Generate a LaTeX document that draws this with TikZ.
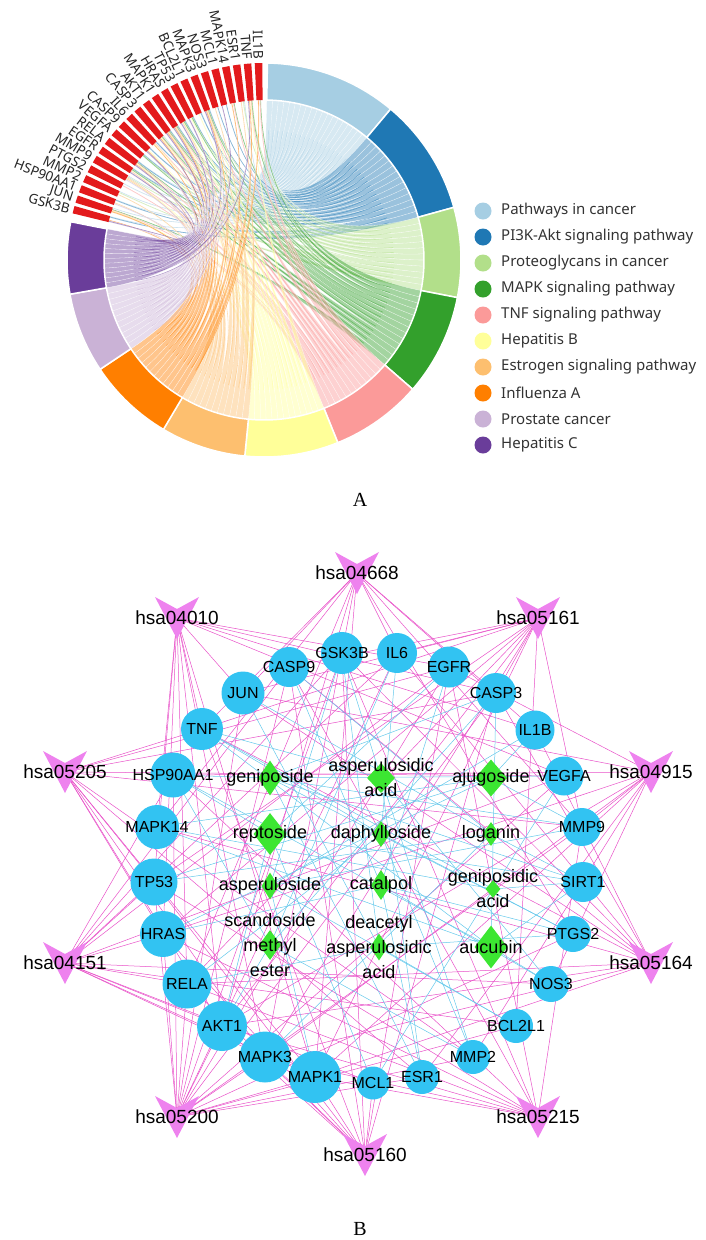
\documentclass[tikz,border=0pt]{standalone}
\usepackage{fontspec}
\setmainfont{Liberation Sans}
\newfontfamily\chordfont{Noto Sans}
\newfontfamily\capfont{Liberation Serif}
\usepackage{tikz}
\usetikzlibrary{shapes,shapes.geometric,backgrounds}

\definecolor{pw1}{HTML}{A6CEE3}
\definecolor{pw2}{HTML}{1F78B4}
\definecolor{pw3}{HTML}{B2DF8A}
\definecolor{pw4}{HTML}{33A02C}
\definecolor{pw5}{HTML}{FB9A99}
\definecolor{pw6}{HTML}{FFFF99}
\definecolor{pw7}{HTML}{FDBF6F}
\definecolor{pw8}{HTML}{FF7F00}
\definecolor{pw9}{HTML}{CAB2D6}
\definecolor{pw10}{HTML}{6A3D9A}
\definecolor{genered}{HTML}{E31A1C}
\definecolor{hubblue}{RGB}{50,195,242}
\definecolor{cmpdgreen}{RGB}{60,230,50}
\definecolor{hsaviolet}{RGB}{238,130,238}
\definecolor{linkpink}{RGB}{232,80,200}
\definecolor{linkblue}{RGB}{100,200,235}

\tikzset{hsavee/.pic={\fill[hsaviolet] (-22,-21) -- (0,-9) -- (22,-21) -- (0,21) -- cycle;}}

\begin{document}
\begin{tikzpicture}
	[x=1pt,y=-1pt,
	gene/.style={shape=circle,fill=hubblue,inner sep=0pt},
	genetext/.style={font=\fontsize{16}{18}\selectfont,inner sep=0pt},
	cmpd/.style={shape=diamond,fill=cmpdgreen,inner sep=0pt},
	cmpdtext/.style={font=\fontsize{18}{25}\selectfont,align=center,inner sep=0pt},
	hsatext/.style={font=\fontsize{19}{22}\selectfont,inner sep=0pt},
	pinklink/.style={draw=linkpink,line width=.5pt},
	bluelink/.style={draw=linkblue,line width=.5pt},
	legdot/.style={shape=circle,inner sep=0pt,minimum size=17pt},
	legtext/.style={font=\chordfont\fontsize{15}{18}\selectfont,text=black!80,inner sep=0pt,anchor=west},
	genelbl/.style={font=\chordfont\fontsize{13.5}{15}\selectfont,text=black!85,inner sep=0pt,anchor=east}]
	\useasboundingbox (0,0) rectangle (706,1240);
	
	% A: chord diagram
	\begin{scope}[shift={(264,260)},y=1pt]
	\foreach \s/\e/\col/\j/\n/\links in {50/89/pw1/1/19/{24,23,22,21,20,19,18,17,16,15,14,13,12,11,10,9,8,7,3},
		15.5/50/pw2/2/15/{24,22,18,17,16,15,14,12,11,10,9,8,7,6,5},
		-11/15.5/pw3/3/12/{21,19,18,16,13,12,11,10,9,7,3,2},
		-41/-11/pw4/4/13/{23,18,17,16,13,12,11,10,9,7,4,2,1},
		-68/-41/pw5/5/12/{23,20,19,17,14,13,12,11,7,4,2,1},
		-95.6/-68/pw6/6/13/{23,19,17,15,14,13,12,11,10,9,8,7,2},
		-120.7/-95.6/pw7/7/11/{23,22,21,19,18,12,11,10,7,6,3},
		-146.3/-120.7/pw8/8/12/{24,23,17,15,14,13,12,11,7,4,2,1},
		-170/-146.3/pw9/9/11/{24,22,19,18,17,15,12,11,10,9,7},
		-191.2/-170/pw10/10/12/{24,18,17,15,13,12,11,10,9,7,5,2}}
	{
		\pgfmathsetmacro{\w}{(\e-\s)/\n}
		\foreach \g [count=\k] in \links
		{
			\pgfmathsetmacro{\a}{\s+(\k-1)*\w}
			\pgfmathsetmacro{\b}{\a+\w}
			\pgfmathsetmacro{\m}{\a+\w/2}
			\pgfmathsetmacro{\ga}{90+3.2*(\g-0.5)-1+(\j-1)*0.2}
			\pgfmathsetmacro{\gb}{\ga+0.2}
			\filldraw[fill=\col,fill opacity=.45,draw=white,draw opacity=.7,line width=.3pt]
				(\a:160) .. controls (\a:55) and (\gb:55) .. (\gb:160) -- (\ga:160)
				.. controls (\ga:55) and (\b:55) .. (\b:160) arc[start angle=\b,end angle=\a,radius=160] -- cycle;
			\draw[\col,opacity=.5,line width=.6pt,shorten <=30pt] (\m:160) .. controls (\m:55) and (\ga:55) .. (\ga:160);
		}
	}
	\foreach \s/\e/\col in {50/89/pw1,15.5/50/pw2,-11/15.5/pw3,-41/-11/pw4,-68/-41/pw5,
		-95.6/-68/pw6,-120.7/-95.6/pw7,-146.3/-120.7/pw8,-170/-146.3/pw9,-191.2/-170/pw10}
		\filldraw[fill=\col,draw=white,line width=1.5pt] (\s:197) arc[start angle=\s,end angle=\e,radius=197]
			-- (\e:160) arc[start angle=\e,end angle=\s,radius=160] -- cycle;
	\foreach \gname [count=\g] in {IL1B,TNF,ESR1,MAPK14,MCL1,NOS3,MAPK3,BCL2L1,TP53,HRAS,MAPK1,AKT1,
		CASP3,IL6,CASP9,VEGFA,RELA,EGFR,MMP9,PTGS2,MMP2,HSP90AA1,JUN,GSK3B}
	{
		\pgfmathsetmacro{\t}{90+3.2*(\g-0.5)}
		\pgfmathsetmacro{\ta}{\t-1.1}
		\pgfmathsetmacro{\tb}{\t+1.1}
		\pgfmathsetmacro{\rot}{\t-180}
		\fill[genered] (\ta:197) arc[start angle=\ta,end angle=\tb,radius=197]
			-- (\tb:160) arc[start angle=\tb,end angle=\ta,radius=160] -- cycle;
		\node[genelbl,rotate=\rot] (lbl\g) at (\t:201) {\gname};
	}
	\end{scope}
	
	\foreach \txt [count=\i] in {Pathways in cancer,PI3K-Akt signaling pathway,Proteoglycans in cancer,
		MAPK signaling pathway,TNF signaling pathway,Hepatitis B,Estrogen signaling pathway,
		Influenza A,Prostate cancer,Hepatitis C}
	{
		\node[legdot,fill=pw\i] (dot\i) at (483,{211+26*(\i-1)}) {};
		\node[legtext] (leg\i) at (501,{211+26*(\i-1)}) {\txt};
	}
	\node[font=\capfont\fontsize{20}{24}\selectfont] (capA) at (360,500) {A};
	
	% B: network
	\foreach \nm/\x/\y/\d in {GSK3B/342/653/42,IL6/397/653/40,EGFR/449/667/41,CASP3/496/693/40,
		IL1B/535/730/39,VEGFA/564/776/39,MMP9/582/827/38,SIRT1/583/882/40,PTGS2/573/934/36,
		NOS3/551/984/36,BCL2L1/516/1026/34,MMP2/473/1057/34,ESR1/422/1077/34,MCL1/373/1083/33,
		MAPK1/315/1077/52,MAPK3/265/1057/51,AKT1/222/1026/50,RELA/187/984/49,HRAS/163/934/46,
		TP53/154/882/47,MAPK14/157/827/44,HSP90AA1/173/775/45,TNF/202/729/42,JUN/243/693/43,
		CASP9/289/667/40}
		\node[gene,minimum size=\d pt,label={[genetext]center:\nm}] (\nm) at (\x,\y) {};
	
	\foreach \nm/\x/\y in {04668/357/573,04010/177/618,05161/538/618,05205/65/772,04915/651/772,
		04151/65/963,05164/651/963,05200/177/1117,05215/538/1117,05160/365/1155}
	{
		\pic at (\x,\y) {hsavee};
		\node[hsatext] (p\nm) at (\x,\y) {hsa\nm};
	}
	
	\node[cmpd,minimum width=24pt,minimum height=35pt,label={[cmpdtext]center:geniposide}] (geniposide) at (270,778) {};
	\node[cmpd,minimum width=28pt,minimum height=30pt,label={[cmpdtext]center:{asperulosidic\\acid}}] (asperulosidic) at (381,778) {};
	\node[cmpd,minimum width=32pt,minimum height=37pt,label={[cmpdtext]center:ajugoside}] (ajugoside) at (491,778) {};
	\node[cmpd,minimum width=33pt,minimum height=42pt,label={[cmpdtext]center:reptoside}] (reptoside) at (270,834) {};
	\node[cmpd,minimum width=18pt,minimum height=26pt,label={[cmpdtext]center:daphylloside}] (daphylloside) at (381,834) {};
	\node[cmpd,minimum width=17pt,minimum height=24pt,label={[cmpdtext]center:loganin}] (loganin) at (491,834) {};
	\node[cmpd,minimum width=17pt,minimum height=27pt,label={[cmpdtext]center:asperuloside}] (asperuloside) at (270,886) {};
	\node[cmpd,minimum width=20pt,minimum height=30pt,label={[cmpdtext]center:catalpol}] (catalpol) at (381,885) {};
	\node[cmpd,minimum width=15pt,minimum height=18pt,label={[cmpdtext]center:{geniposidic\\acid}}] (geniposidic) at (493,889) {};
	\node[cmpd,minimum width=22pt,minimum height=30pt,label={[cmpdtext]center:{scandoside\\methyl\\ester}}] (scandoside) at (270,945) {};
	\node[cmpd,minimum width=18pt,minimum height=27pt,label={[cmpdtext]center:{deacetyl\\asperulosidic\\acid}}] (deacetyl) at (379,947) {};
	\node[cmpd,minimum width=33pt,minimum height=43pt,label={[cmpdtext]center:aucubin}] (aucubin) at (491,947) {};
	
	\node[font=\capfont\fontsize{20}{24}\selectfont] (capB) at (360,1229) {B};
	
	\begin{scope}[on background layer]
	\foreach \p/\gs in {05200/{GSK3B,JUN,HSP90AA1,MMP2,PTGS2,MMP9,EGFR,RELA,VEGFA,CASP9,IL6,CASP3,AKT1,MAPK1,HRAS,TP53,BCL2L1,MAPK3,ESR1},
		04151/{GSK3B,HSP90AA1,EGFR,RELA,VEGFA,CASP9,IL6,AKT1,MAPK1,HRAS,TP53,BCL2L1,MAPK3,NOS3,MCL1},
		05205/{MMP2,MMP9,EGFR,VEGFA,CASP3,AKT1,MAPK1,HRAS,TP53,MAPK3,ESR1,TNF},
		04010/{JUN,EGFR,RELA,VEGFA,CASP3,AKT1,MAPK1,HRAS,TP53,MAPK3,MAPK14,TNF,IL1B},
		04668/{JUN,PTGS2,MMP9,RELA,IL6,CASP3,AKT1,MAPK1,MAPK3,MAPK14,TNF,IL1B},
		05161/{JUN,MMP9,RELA,CASP9,IL6,CASP3,AKT1,MAPK1,HRAS,TP53,BCL2L1,MAPK3,TNF},
		04915/{JUN,HSP90AA1,MMP2,MMP9,EGFR,AKT1,MAPK1,HRAS,MAPK3,NOS3,ESR1},
		05164/{GSK3B,JUN,RELA,CASP9,IL6,CASP3,AKT1,MAPK1,MAPK3,MAPK14,TNF,IL1B},
		05215/{GSK3B,HSP90AA1,MMP9,EGFR,RELA,CASP9,AKT1,MAPK1,HRAS,TP53,MAPK3},
		05160/{GSK3B,EGFR,RELA,CASP9,CASP3,AKT1,MAPK1,HRAS,TP53,MAPK3,MCL1,TNF}}
		\foreach \gn in \gs
			\draw[pinklink] (p\p.center) -- (\gn.center);
	\foreach \c/\gs in {geniposide/{HSP90AA1,VEGFA,SIRT1,MMP9,ESR1,CASP3,PTGS2},
		asperulosidic/{GSK3B,TNF,MMP2,NOS3,ESR1},
		ajugoside/{IL1B,MMP9,HRAS,MAPK14,TP53},
		reptoside/{HSP90AA1,SIRT1,AKT1,EGFR,MCL1},
		daphylloside/{TNF,MMP2,IL6,PTGS2,RELA},
		loganin/{JUN,CASP9,SIRT1,TP53,MAPK3},
		asperuloside/{GSK3B,IL1B,MMP9,MAPK1,BCL2L1},
		catalpol/{CASP9,EGFR,NOS3,HRAS,ESR1,PTGS2},
		geniposidic/{TNF,VEGFA,MAPK14,SIRT1,MCL1},
		scandoside/{HSP90AA1,IL6,MMP2,CASP3,AKT1},
		deacetyl/{JUN,GSK3B,PTGS2,BCL2L1,RELA},
		aucubin/{TNF,HSP90AA1,CASP3,MAPK14,SIRT1,NOS3}}
		\foreach \gn in \gs
			\draw[bluelink] (\c.center) -- (\gn.center);
	\end{scope}
\end{tikzpicture}
\end{document}
